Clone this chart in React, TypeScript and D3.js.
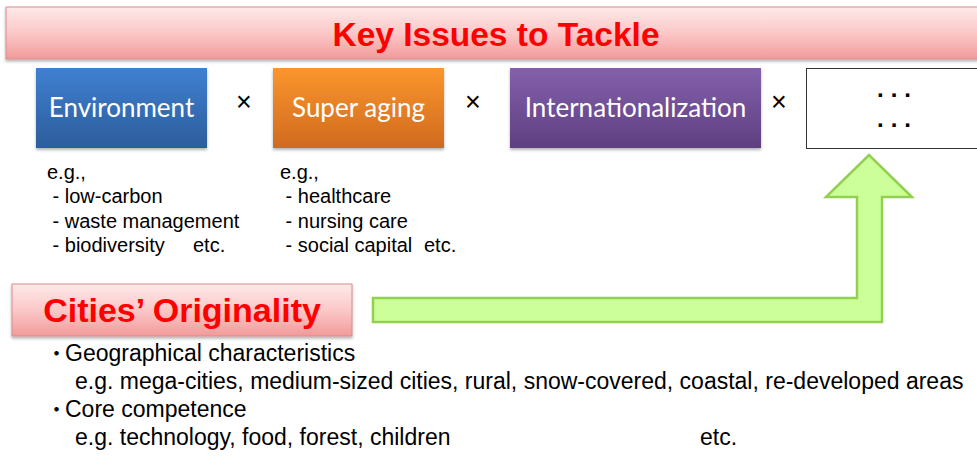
import * as d3 from 'd3';

// diagram content
const title = 'Key Issues to Tackle';
const issues = ['Environment', 'Super aging', 'Internationalization', '...'];
const envExamples = ['e.g.,', ' - low-carbon', ' - waste management', ' - biodiversity'];
const agingExamples = ['e.g.,', ' - healthcare', ' - nursing care', ' - social capital'];
const originTitle = 'Cities\u2019 Originality';
const originLines = [
  { bullet: true, text: 'Geographical characteristics' },
  { bullet: false, text: 'e.g. mega-cities, medium-sized cities, rural, snow-covered, coastal, re-developed areas' },
  { bullet: true, text: 'Core competence' },
  { bullet: false, text: 'e.g. technology, food, forest, children' },
];

const W = 977;
const H = 464;
const SANS = '"Liberation Sans", Arial, sans-serif';
const BOX_FONT = 'Lato, "Open Sans", sans-serif';

// issue boxes: left edge / width, sharing one row
const boxX = [36, 273, 510, 806];
const boxW = [171, 171, 251, 200];
const boxTop = 68;
const boxH = 80;
const boxFill = ['envGrad', 'ageGrad', 'intGrad', null];
const crossX = [244, 473, 779];

export default function App() {
  // the bent arrow from "Cities' Originality" up into the last box
  const arrowPts: [number, number][] = (() => {
    const left = 373, barTop = 298, barBot = 322;
    const shaftL = 857, shaftR = 882, headY = 197, tipY = 155;
    const headL = 826, headR = 912, tipX = (headL + headR) / 2;
    return [
      [left, barTop], [shaftL, barTop], [shaftL, headY], [headL, headY],
      [tipX, tipY], [headR, headY], [shaftR, headY], [shaftR, barBot], [left, barBot],
    ];
  })();
  const arrowPath = d3.line()(arrowPts) + 'Z';

  const rowY = d3.scalePoint<number>().domain(d3.range(4)).range([179, 252]);
  const originY = d3.scalePoint<number>().domain(d3.range(4)).range([361, 445]);

  return (
    <svg width={W} height={H} style={{ position: 'absolute', left: 0, top: 0, background: '#fff' }}>
      <defs>
        <linearGradient id="pinkGrad" x1="0" y1="0" x2="0" y2="1">
          <stop offset="0" stopColor="#ffe9e9" />
          <stop offset="0.5" stopColor="#fcc8c8" />
          <stop offset="1" stopColor="#f29a9a" />
        </linearGradient>
        <linearGradient id="envGrad" x1="0" y1="0" x2="0" y2="1">
          <stop offset="0" stopColor="#3f80d0" />
          <stop offset="1" stopColor="#2c5d9c" />
        </linearGradient>
        <linearGradient id="ageGrad" x1="0" y1="0" x2="0" y2="1">
          <stop offset="0" stopColor="#fb962e" />
          <stop offset="1" stopColor="#d06a1f" />
        </linearGradient>
        <linearGradient id="intGrad" x1="0" y1="0" x2="0" y2="1">
          <stop offset="0" stopColor="#8460ac" />
          <stop offset="1" stopColor="#5e3f80" />
        </linearGradient>
        <filter id="shadow" x="-5%" y="-10%" width="110%" height="130%">
          <feDropShadow dx="0" dy="2" stdDeviation="1.5" floodColor="#000" floodOpacity="0.3" />
        </filter>
      </defs>

      {/* title banner */}
      <rect x={6} y={7} width={990} height={52} fill="url(#pinkGrad)" stroke="#d98c8c" strokeWidth={1} filter="url(#shadow)" />
      <text x={496} y={45.5} textAnchor="middle" fontFamily={SANS} fontWeight="bold" fontSize={33.5} fill="#ff0000">
        {title}
      </text>

      {/* issue boxes */}
      {issues.map((name, i) => {
        const x = boxX[i];
        const w = boxW[i];
        const fill = boxFill[i];
        if (!fill) {
          // the open-ended "…" box; dots spread with letter spacing
          return (
            <g key={name}>
              <rect x={x + 0.5} y={boxTop + 0.5} width={w} height={boxH} fill="#fff" stroke="#333" strokeWidth={1} />
              {[93, 123].map((y) => (
                <text key={y} x={877} y={y + 4} fontFamily={SANS} fontWeight="bold" fontSize={24} letterSpacing={7} fill="#000">
                  {name}
                </text>
              ))}
            </g>
          );
        }
        return (
          <g key={name}>
            <rect x={x} y={boxTop} width={w} height={boxH} fill={`url(#${fill})`} filter="url(#shadow)" />
            <text x={x + w / 2} y={117} textAnchor="middle" fontFamily={BOX_FONT} fontSize={26} fill="#fff">
              {name}
            </text>
          </g>
        );
      })}
      {crossX.map((x) => (
        <text key={x} x={x} y={102} textAnchor="middle" dominantBaseline="central" fontFamily={SANS} fontSize={27} fill="#000">
          ×
        </text>
      ))}

      {/* example lists */}
      <g fontFamily={SANS} fontSize={20} fill="#000">
        {envExamples.map((t, i) => (
          <text key={t} x={47} y={rowY(i)} style={{ whiteSpace: 'pre' }}>{t}</text>
        ))}
        <text x={193} y={rowY(3)}>etc.</text>
        {agingExamples.map((t, i) => (
          <text key={t} x={280} y={rowY(i)} style={{ whiteSpace: 'pre' }}>{t}</text>
        ))}
        <text x={424} y={rowY(3)}>etc.</text>
      </g>

      {/* arrow */}
      <path d={arrowPath} fill="#ccff99" stroke="#92d050" strokeWidth={2.5} strokeLinejoin="miter" />

      {/* cities' originality */}
      <rect x={12} y={284} width={340} height={52} fill="url(#pinkGrad)" stroke="#d98c8c" strokeWidth={1} filter="url(#shadow)" />
      <text x={182} y={322} textAnchor="middle" fontFamily={SANS} fontWeight="bold" fontSize={34} fill="#ff0000">
        {originTitle}
      </text>

      <g fontFamily={SANS} fontSize={23} fill="#000">
        {originLines.map((l, i) => (
          <g key={l.text}>
            {l.bullet && <text x={46} y={originY(i)} fontFamily='"Noto Sans CJK JP", sans-serif' fontSize={21}>・</text>}
            <text x={l.bullet ? 65 : 75} y={originY(i)}>{l.text}</text>
          </g>
        ))}
        <text x={700} y={originY(3)}>etc.</text>
      </g>
    </svg>
  );
}
